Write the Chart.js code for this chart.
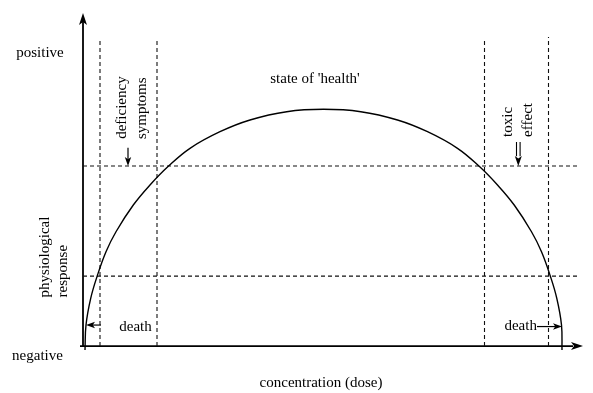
<!DOCTYPE html>
<html><head><meta charset="utf-8">
<script src="https://cdn.jsdelivr.net/npm/chart.js@4/dist/chart.umd.min.js"></script>
<style>html,body{margin:0;padding:0;background:#fff;} #wrap{width:593px;height:393px;position:relative;}</style>
</head><body><div id="wrap"><canvas id="c"></canvas></div>
<script>
// ---- Data (concentration along x, physiological response along y) ----
const curveConcentration = [0.4,0.6,1.54,2.86,4.6,6.6,10.06,13.4,17.06,21.4,27.4,33.4,40.74,48.1,55.56,62.9,68.9,74.9,79.24,82.9,86.24,89.7,91.7,93.44,94.76,95.7,95.8];
const curveResponse      = [-1.2,6.31,14.32,21.11,28.32,34.32,42.34,48.35,53.96,59.37,64.35,67.87,70.36,71.08,70.36,67.87,64.35,59.37,53.96,48.35,42.34,34.32,28.32,21.11,14.32,6.31,-1.2];
const thresholdConcentrations = [3.4, 14.8, 80.3, 93.1];
const thresholdTops           = [92.5, 92.5, 91.6, 92.8];
const thresholdResponses      = [54.05, 21.0];
const thresholdLineEnd        = 99.4;
const axisEnds = [100, 100]; // x-axis end, y-axis end

// ---- Layout / styling ----
const FONT = '15px "Liberation Serif", "Times New Roman", Times, serif';
const labels = [
  {t:'positive', x:-8.6, y:88.0},
  {t:'negative', x:-9.1, y:-3.15},
  {t:'concentration (dose)', x:47.6, y:-11.1},
  {t:"state of 'health'", x:46.4, y:80.1},
  {t:'physiological', x:-7.6, y:14.6, rot:true, align:'left'},
  {t:'response', x:-4.0, y:14.6, rot:true, align:'left'},
  {t:'deficiency', x:7.74, y:71.6, rot:true},
  {t:'symptoms', x:11.74, y:71.4, rot:true},
  {t:'toxic', x:85.06, y:62.8, rot:true, align:'left'},
  {t:'effect', x:89.06, y:62.8, rot:true, align:'left'},
  {t:'death', x:10.5, y:5.8},
  {t:'death', x:87.54, y:6.0}
];

const curveData = curveConcentration.map((x,i)=>({x, y:curveResponse[i]}));
const datasets = [];
datasets.push({data:curveData, borderColor:'#000', borderWidth:1.4, tension:0.4, pointRadius:0, showLine:true, clip:false});
thresholdConcentrations.forEach((c,i)=>{
  datasets.push({data:[{x:c,y:0},{x:c,y:thresholdTops[i]}], borderColor:'#111', borderWidth:1.1, borderDash:[4,3], pointRadius:0, showLine:true, clip:false});
});
thresholdResponses.forEach(r=>{
  datasets.push({data:[{x:0,y:r},{x:thresholdLineEnd,y:r}], borderColor:'#111', borderWidth:1.1, borderDash:[4,3], pointRadius:0, showLine:true, clip:false});
});
// axes
datasets.push({data:[{x:0,y:0},{x:0,y:axisEnds[1]-2}], borderColor:'#000', borderWidth:1.8, pointRadius:0, showLine:true, clip:false});
datasets.push({data:[{x:-0.6,y:0},{x:axisEnds[0]-2,y:0}], borderColor:'#000', borderWidth:1.8, pointRadius:0, showLine:true, clip:false});

function arrowHead(ctx, tx, ty, dx, dy, len, half){
  const bx = tx - dx*len, by = ty - dy*len;
  const nx = -dy, ny = dx;
  const mx = tx - dx*len*0.75, my = ty - dy*len*0.75;
  ctx.beginPath();
  ctx.moveTo(tx,ty);
  ctx.lineTo(bx+nx*half, by+ny*half);
  ctx.lineTo(mx,my);
  ctx.lineTo(bx-nx*half, by-ny*half);
  ctx.closePath();
  ctx.fill();
}

const deco = {
  id:'deco',
  afterDatasetsDraw(chart){
    const ctx = chart.ctx, xs = chart.scales.x, ys = chart.scales.y;
    const X = v=>xs.getPixelForValue(v), Y = v=>ys.getPixelForValue(v);
    ctx.save();
    ctx.fillStyle = '#000'; ctx.strokeStyle = '#000';
    arrowHead(ctx, X(0), Y(axisEnds[1]), 0, -1, 12, 4);
    arrowHead(ctx, X(axisEnds[0]), Y(0), 1, 0, 12, 4);
    ctx.lineWidth = 1.2;
    ctx.beginPath(); ctx.moveTo(X(9.0), Y(59.5)); ctx.lineTo(X(9.0), Y(56)); ctx.stroke();
    arrowHead(ctx, X(9.0), Y(54.05), 0, 1, 9, 3.2);
    ctx.lineWidth = 1.1;
    const tx = X(87.06);
    ctx.beginPath();
    ctx.moveTo(tx-1.8, Y(61.3)); ctx.lineTo(tx-1.8, Y(57));
    ctx.moveTo(tx+1.8, Y(61.3)); ctx.lineTo(tx+1.8, Y(57));
    ctx.stroke();
    arrowHead(ctx, tx, Y(54.05), 0, 1, 10, 3.5);
    ctx.lineWidth = 1.2;
    ctx.beginPath(); ctx.moveTo(X(3.6), Y(6.3)); ctx.lineTo(X(1.6), Y(6.3)); ctx.stroke();
    arrowHead(ctx, X(0.6), Y(6.3), -1, 0, 9, 3.2);
    ctx.beginPath(); ctx.moveTo(X(90.8), Y(5.85)); ctx.lineTo(X(94.6), Y(5.85)); ctx.stroke();
    arrowHead(ctx, X(95.8), Y(5.85), 1, 0, 9, 3.2);
    ctx.font = FONT; ctx.fillStyle = '#000';
    labels.forEach(l=>{
      const px = X(l.x), py = Y(l.y);
      ctx.save();
      ctx.translate(px, py);
      if (l.rot) ctx.rotate(-Math.PI/2);
      ctx.textAlign = l.align || 'center';
      ctx.textBaseline = 'middle';
      ctx.fillText(l.t, 0, 0);
      ctx.restore();
    });
    ctx.restore();
  }
};

new Chart(document.getElementById('c'), {
  type:'scatter',
  data:{datasets},
  options:{
    responsive:true, maintainAspectRatio:false, animation:false,
    layout:{padding:0, autoPadding:false},
    plugins:{legend:{display:false}, tooltip:{enabled:false}, title:{display:false}},
    scales:{
      x:{type:'linear', display:false, min:-16.6, max:102},
      y:{type:'linear', display:false, min:-14.1, max:103.9}
    }
  },
  plugins:[deco]
});
</script>
</body></html>
